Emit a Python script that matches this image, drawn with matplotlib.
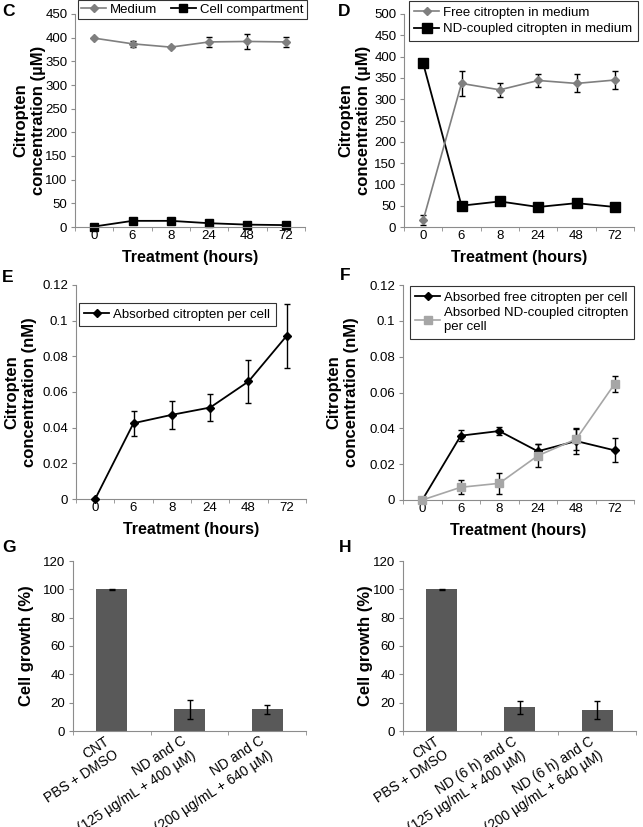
# !/usr/bin/env python

# ******************************************    Libraries to be imported    ****************************************** #
import numpy as np
from matplotlib import pyplot as plt
from matplotlib.transforms import ScaledTranslation

# ******************************************            Chart data          ****************************************** #
hours = ['0', '6', '8', '24', '48', '72']

# panel C
medium = [399, 387, 380, 391, 392, 391]
medium_err = [0, 6, 2, 11, 16, 10]
cell_comp = [1, 13, 13, 8, 5, 4]

# panel D
free_medium = [16, 337, 322, 344, 337, 345]
free_medium_err = [11, 29, 16, 16, 21, 22]
nd_medium = [384, 50, 60, 47, 56, 47]

# panel E
absorbed = [0, 0.0425, 0.0472, 0.0513, 0.0659, 0.0916]
absorbed_err = [0, 0.007, 0.0078, 0.0075, 0.0123, 0.018]

# panel F
absorbed_free = [0, 0.0359, 0.0385, 0.0272, 0.0329, 0.0277]
absorbed_free_err = [0, 0.0032, 0.0022, 0.0042, 0.007, 0.0067]
absorbed_nd = [0, 0.0071, 0.0093, 0.0247, 0.034, 0.0649]
absorbed_nd_err = [0, 0.0038, 0.0057, 0.0065, 0.006, 0.0044]

# panels G and H
g_labels = ['CNT\nPBS + DMSO', 'ND and C\n(125 µg/mL + 400 µM)', 'ND and C\n(200 µg/mL + 640 µM)']
g_growth = [100, 15.3, 15.3]
g_err = [0.3, 6.7, 3.0]
h_labels = ['CNT\nPBS + DMSO', 'ND (6 h) and C\n(125 µg/mL + 400 µM)', 'ND (6 h) and C\n(200 µg/mL + 640 µM)']
h_growth = [100, 16.7, 14.8]
h_err = [0.3, 4.7, 6.3]

W, H = 643, 827
GRAY_AX = '#8c8c8c'
TICK_FS = 9.5
LABEL_FS = 11.5


# ******************************************        Function Definition     ****************************************** #
def make_axes(fig, left, top, right, bottom):
    return fig.add_axes([left / W, 1 - bottom / H, (right - left) / W, (bottom - top) / H])


def style_axes(ax, n_cat):
    for side in ['top', 'right']:
        ax.spines[side].set_visible(False)
    for side in ['left', 'bottom']:
        ax.spines[side].set_color(GRAY_AX)
    ax.set_xlim(-0.5, n_cat - 0.5)
    ax.set_xticks(range(n_cat))
    ax.set_xticks(np.arange(-0.5, n_cat), minor=True)
    ax.tick_params(axis='x', which='major', length=0, labelsize=TICK_FS, pad=2)
    ax.tick_params(axis='x', which='minor', length=3, color=GRAY_AX, direction='out')
    ax.tick_params(axis='y', length=3, color=GRAY_AX, labelsize=TICK_FS, direction='out', pad=2.5)


def add_legend(fig, ax, handles, labels, left, top, **kw):
    opts = dict(fancybox=False, edgecolor='black', fontsize=TICK_FS, borderaxespad=0, handlelength=1.9,
                handletextpad=0.3, borderpad=0.3, labelspacing=0.15)
    opts.update(kw)
    leg = ax.legend(handles, labels, loc='upper left', bbox_to_anchor=(left / W, 1 - top / H),
                    bbox_transform=fig.transFigure, **opts)
    leg.get_frame().set_linewidth(0.8)
    return leg


def panel_letter(fig, x, y, s):
    fig.text(x / W, 1 - y / H, s, fontsize=12.5, fontweight='bold', va='center', ha='left')


def line_axes(ax, ylabel, ylabel_x):
    style_axes(ax, len(hours))
    ax.set_xticklabels(hours)
    ax.set_ylabel(ylabel, fontsize=LABEL_FS + 0.5, fontweight='bold')
    ax.yaxis.set_label_coords(ylabel_x, 0.5)
    ax.set_xlabel('Treatment (hours)', fontsize=LABEL_FS, fontweight='bold')
    ax.xaxis.set_label_coords(0.5, -0.108)


def bar_panel(fig, ax, labels, vals, errs, ylabel_x):
    x = np.arange(len(vals))
    ax.bar(x, vals, width=0.4, color='#595959', zorder=2)
    ax.errorbar(x, vals, yerr=errs, fmt='none', ecolor='black', elinewidth=1, capsize=2, zorder=3)
    style_axes(ax, len(vals))
    ax.set_ylim(0, 120)
    ax.set_yticks(np.arange(0, 121, 20))
    ax.set_xticklabels(labels, rotation=33, ha='right', va='top', rotation_mode='anchor',
                       multialignment='right', linespacing=1.25, fontsize=TICK_FS + 0.5)
    ax.tick_params(axis='x', which='major', pad=2)
    shift = ScaledTranslation(-8 / 100, 0, fig.dpi_scale_trans)
    for lab in ax.get_xticklabels():
        lab.set_transform(lab.get_transform() + shift)
    ax.set_ylabel('Cell growth (%)', fontsize=LABEL_FS + 0.5, fontweight='bold')
    ax.yaxis.set_label_coords(ylabel_x, 0.5)


# ******************************************        Main Program Start      ****************************************** #
def main():
    plt.rcParams['font.family'] = ['Liberation Sans', 'DejaVu Sans']
    fig = plt.figure(figsize=[W / 100, H / 100], dpi=100)
    x = np.arange(len(hours))
    nm_ticks = ['0', '0.02', '0.04', '0.06', '0.08', '0.1', '0.12']

    # ---- C
    ax = make_axes(fig, 75, 14, 305, 227)
    eb = ax.errorbar(x, medium, yerr=medium_err, color='#7f7f7f', marker='D', ms=4, lw=1.2, ecolor='black',
                     elinewidth=1, capsize=2, clip_on=False, zorder=3)
    ln, = ax.plot(x, cell_comp, color='black', marker='s', ms=5.5, lw=1.3, clip_on=False)
    line_axes(ax, 'Citropten\nconcentration (µM)', -0.125)
    ax.set_ylim(0, 450)
    ax.set_yticks(np.arange(0, 451, 50))
    add_legend(fig, ax, [eb[0], ln], ['Medium', 'Cell compartment'], 78, 0, ncol=2, columnspacing=1.0,
               borderpad=0.25)
    panel_letter(fig, 2, 11, 'C')

    # ---- D
    ax = make_axes(fig, 404, 14, 634, 227)
    eb = ax.errorbar(x, free_medium, yerr=free_medium_err, color='#7f7f7f', marker='D', ms=4, lw=1.2,
                     ecolor='black', elinewidth=1, capsize=2, clip_on=False, zorder=3)
    ln, = ax.plot(x, nd_medium, color='black', marker='s', ms=6.5, lw=1.3, clip_on=False)
    line_axes(ax, 'Citropten\nconcentration (µM)', -0.143)
    ax.set_ylim(0, 500)
    ax.set_yticks(np.arange(0, 501, 50))
    add_legend(fig, ax, [eb[0], ln], ['Free citropten in medium', 'ND-coupled citropten in medium'], 409, 1,
               borderpad=0.4, labelspacing=0.35)
    panel_letter(fig, 338, 11, 'D')

    # ---- E
    ax = make_axes(fig, 76, 285, 306, 499)
    eb = ax.errorbar(x, absorbed, yerr=absorbed_err, color='black', marker='D', ms=4.5, lw=1.3, ecolor='black',
                     elinewidth=1, capsize=2, clip_on=False, zorder=3)
    line_axes(ax, 'Citropten\nconcentration (nM)', -0.17)
    ax.set_ylim(0, 0.12)
    ax.set_yticks(np.arange(0, 0.121, 0.02))
    ax.set_yticklabels(nm_ticks)
    add_legend(fig, ax, [eb[0]], ['Absorbed citropten per cell'], 79, 303, borderpad=0.4)
    panel_letter(fig, 2, 278, 'E')

    # ---- F
    ax = make_axes(fig, 403, 285, 634, 500)
    eb1 = ax.errorbar(x, absorbed_free, yerr=absorbed_free_err, color='black', marker='D', ms=4.5, lw=1.3,
                      ecolor='black', elinewidth=1, capsize=2, clip_on=False, zorder=3)
    eb2 = ax.errorbar(x, absorbed_nd, yerr=absorbed_nd_err, color='#a6a6a6', marker='s', ms=6, lw=1.2,
                      ecolor='black', elinewidth=1, capsize=2, clip_on=False, zorder=3)
    line_axes(ax, 'Citropten\nconcentration (nM)', -0.19)
    ax.set_ylim(0, 0.12)
    ax.set_yticks(np.arange(0, 0.121, 0.02))
    ax.set_yticklabels(nm_ticks)
    add_legend(fig, ax, [eb1[0], eb2[0]],
               ['Absorbed free citropten per cell', 'Absorbed ND-coupled citropten\nper cell'], 410, 286,
               borderpad=0.4, labelspacing=0.3)
    panel_letter(fig, 340, 276, 'F')

    # ---- G
    ax = make_axes(fig, 73, 561, 306, 731)
    bar_panel(fig, ax, g_labels, g_growth, g_err, -0.167)
    panel_letter(fig, 2, 548, 'G')

    # ---- H
    ax = make_axes(fig, 403, 561, 636, 731)
    bar_panel(fig, ax, h_labels, h_growth, h_err, -0.13)
    panel_letter(fig, 339, 548, 'H')

    fig.savefig('out.png', dpi=100)


# ******************************************        Main Program End        ****************************************** #

if __name__ == '__main__':
    main()
